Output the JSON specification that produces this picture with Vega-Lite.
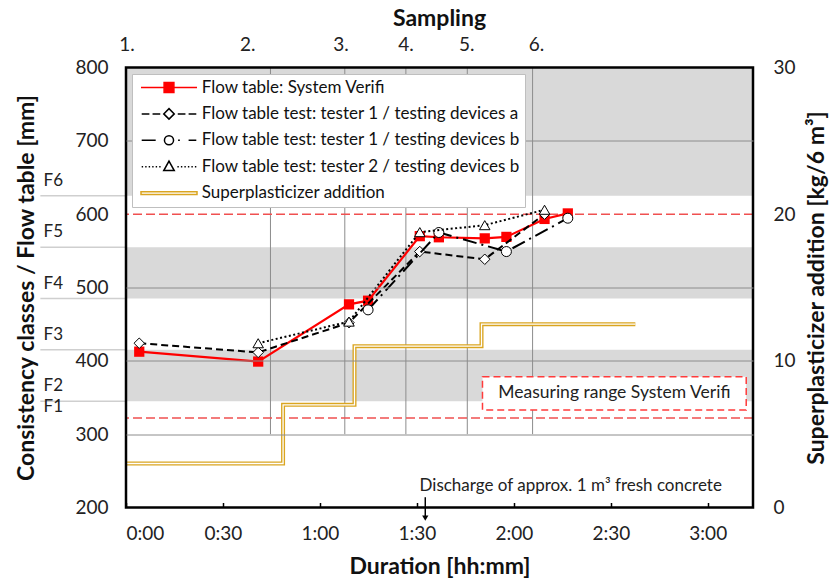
{
  "$schema": "https://vega.github.io/schema/vega-lite/v6.json",
  "width": 627,
  "height": 440,
  "autosize": {"type": "none"},
  "padding": {"left": 126, "top": 67.5, "right": 76, "bottom": 75.5},
  "background": "white",
  "config": {"font": "Lato", "view": {"stroke": null}},
  "title": {"text": "Sampling", "fontSize": 23, "fontWeight": "bold", "color": "#111", "anchor": "middle", "frame": "group", "offset": 5},
  "datasets": {
    "flow": [
      {"series": "Flow table: System Verifi", "t": 4.1, "mm": 412.5},
      {"series": "Flow table: System Verifi", "t": 40.9, "mm": 399},
      {"series": "Flow table: System Verifi", "t": 69.0, "mm": 477},
      {"series": "Flow table: System Verifi", "t": 74.9, "mm": 482},
      {"series": "Flow table: System Verifi", "t": 90.9, "mm": 570},
      {"series": "Flow table: System Verifi", "t": 96.8, "mm": 568.5},
      {"series": "Flow table: System Verifi", "t": 111.0, "mm": 567},
      {"series": "Flow table: System Verifi", "t": 117.7, "mm": 569},
      {"series": "Flow table: System Verifi", "t": 129.5, "mm": 593.5},
      {"series": "Flow table: System Verifi", "t": 136.7, "mm": 601},
      {"series": "Flow table test: tester 1 / testing devices a", "t": 4.1, "mm": 424},
      {"series": "Flow table test: tester 1 / testing devices a", "t": 40.9, "mm": 411.5},
      {"series": "Flow table test: tester 1 / testing devices a", "t": 69.0, "mm": 452},
      {"series": "Flow table test: tester 1 / testing devices a", "t": 90.9, "mm": 549},
      {"series": "Flow table test: tester 1 / testing devices a", "t": 111.0, "mm": 538.5},
      {"series": "Flow table test: tester 1 / testing devices a", "t": 129.5, "mm": 600},
      {"series": "Flow table test: tester 1 / testing devices b", "t": 74.9, "mm": 469.5},
      {"series": "Flow table test: tester 1 / testing devices b", "t": 96.8, "mm": 575},
      {"series": "Flow table test: tester 1 / testing devices b", "t": 117.7, "mm": 549},
      {"series": "Flow table test: tester 1 / testing devices b", "t": 136.7, "mm": 594.5},
      {"series": "Flow table test: tester 2 / testing devices b", "t": 40.9, "mm": 424},
      {"series": "Flow table test: tester 2 / testing devices b", "t": 69.0, "mm": 453.5},
      {"series": "Flow table test: tester 2 / testing devices b", "t": 90.9, "mm": 575.5},
      {"series": "Flow table test: tester 2 / testing devices b", "t": 111.0, "mm": 585},
      {"series": "Flow table test: tester 2 / testing devices b", "t": 129.5, "mm": 606}
    ],
    "plast": [
      {"t": 0, "kg": 3},
      {"t": 48.6, "kg": 7},
      {"t": 70.7, "kg": 11},
      {"t": 110.0, "kg": 12.5},
      {"t": 157.6, "kg": 12.5}
    ],
    "classes": [
      {"class": "F1", "lo": 200, "hi": 345},
      {"class": "F2", "lo": 345, "hi": 415},
      {"class": "F3", "lo": 415, "hi": 485},
      {"class": "F4", "lo": 485, "hi": 555},
      {"class": "F5", "lo": 555, "hi": 625},
      {"class": "F6", "lo": 625, "hi": 800}
    ],
    "samples": [
      {"sample": "1.", "t": 0, "t_label": 0.3},
      {"sample": "2.", "t": 44.7, "t_label": 37.7},
      {"sample": "3.", "t": 67.7, "t_label": 66.5},
      {"sample": "4.", "t": 86.6, "t_label": 86.6},
      {"sample": "5.", "t": 105.6, "t_label": 105.4},
      {"sample": "6.", "t": 125.8, "t_label": 127.0}
    ],
    "limits": [
      {"limit": "upper", "mm": 600},
      {"limit": "lower", "mm": 322}
    ],
    "series": [
      {"series": "Flow table: System Verifi"},
      {"series": "Flow table test: tester 1 / testing devices a"},
      {"series": "Flow table test: tester 1 / testing devices b"},
      {"series": "Flow table test: tester 2 / testing devices b"},
      {"series": "Superplasticizer addition"}
    ]
  },
  "layer": [
    {
      "layer": [
        {
          "data": {"name": "classes"},
          "transform": [{"filter": {"field": "class", "oneOf": ["F2", "F4", "F6"]}}],
          "mark": {"type": "rect", "fill": "#D9D9D9"},
          "encoding": {
            "y": {"field": "lo", "type": "quantitative", "scale": {"domain": [200, 800], "nice": false, "zero": false},
              "axis": {"title": "Consistency classes / Flow table [mm]", "orient": "left", "values": [200, 300, 400, 500, 600, 700, 800],
                "grid": true, "gridColor": {"condition": {"test": "datum.value === 200 || datum.value === 600 || datum.value === 800", "value": "transparent"}, "value": "#8C8C8C"},
                "gridWidth": 1, "ticks": false, "domain": false, "labelFontSize": 19, "labelColor": "#222", "labelPadding": 18,
                "titleFontSize": 23, "titleFontWeight": "bold", "titleColor": "#111", "titlePadding": 36, "zindex": 1}},
            "y2": {"field": "hi"}
          }
        },
        {
          "data": {"name": "classes"},
          "transform": [{"filter": "datum.lo > 200"}],
          "mark": {"type": "rule", "color": "#CFCFCF", "strokeWidth": 1.5},
          "encoding": {
            "y": {"field": "lo", "type": "quantitative", "scale": {"domain": [200, 800], "nice": false, "zero": false}},
            "x": {"datum": -26.5, "type": "quantitative", "scale": {"domain": [0, 194], "nice": false, "zero": false}},
            "x2": {"datum": 0}
          }
        },
        {
          "data": {"name": "classes"},
          "transform": [{"filter": "datum.class !== 'F1'"}],
          "mark": {"type": "text", "fontSize": 17, "color": "#222", "align": "left", "baseline": "middle", "dy": -15},
          "encoding": {
            "y": {"field": "lo", "type": "quantitative"},
            "x": {"datum": -25.5, "type": "quantitative"},
            "text": {"field": "class"}
          }
        },
        {
          "data": {"name": "classes"},
          "transform": [{"filter": "datum.class === 'F1'"}],
          "mark": {"type": "text", "fontSize": 17, "color": "#222", "align": "left", "baseline": "middle", "dy": 6},
          "encoding": {
            "y": {"field": "hi", "type": "quantitative"},
            "x": {"datum": -25.5, "type": "quantitative"},
            "text": {"field": "class"}
          }
        },
        {
          "data": {"name": "samples"},
          "transform": [{"filter": "datum.t > 0"}],
          "mark": {"type": "rule", "color": "#8C8C8C", "strokeWidth": 1},
          "encoding": {
            "x": {"field": "t", "type": "quantitative", "scale": {"domain": [0, 194], "nice": false, "zero": false},
              "axis": {"title": "Duration [hh:mm]", "orient": "bottom", "values": [0, 30, 60, 90, 120, 150, 180],
                "labelExpr": "floor(datum.value / 60) + ':' + (datum.value % 60 < 10 ? '0' : '') + (datum.value % 60)",
                "grid": false, "domain": false, "ticks": true, "tickSize": -5, "tickColor": "black", "tickWidth": 1.5,
                "labelPadding": 22, "labelFontSize": 19, "labelColor": "#222",
                "titleFontSize": 23, "titleFontWeight": "bold", "titleColor": "#111", "titlePadding": 12, "zindex": 1}},
            "y": {"datum": 300, "type": "quantitative"},
            "y2": {"datum": 800}
          }
        },
        {
          "data": {"name": "samples"},
          "mark": {"type": "text", "fontSize": 19, "color": "#222", "baseline": "middle", "dy": -22.5},
          "encoding": {
            "x": {"field": "t_label", "type": "quantitative"},
            "y": {"datum": 800, "type": "quantitative"},
            "text": {"field": "sample"}
          }
        },
        {
          "data": {"name": "limits"},
          "mark": {"type": "rule", "color": "#F05050", "strokeWidth": 1.5, "strokeDash": [9, 4]},
          "encoding": {"y": {"field": "mm", "type": "quantitative"}}
        },
        {
          "data": {"name": "flow"},
          "transform": [{"filter": "datum.series === 'Flow table: System Verifi'"}],
          "mark": {"type": "line", "color": "#FF0000", "strokeWidth": 2.2},
          "encoding": {"x": {"field": "t", "type": "quantitative"}, "y": {"field": "mm", "type": "quantitative"}}
        },
        {
          "data": {"name": "flow"},
          "transform": [{"filter": "datum.series === 'Flow table: System Verifi'"}],
          "mark": {"type": "point", "shape": "square", "filled": true, "color": "#FF0000", "size": 105, "opacity": 1},
          "encoding": {"x": {"field": "t", "type": "quantitative"}, "y": {"field": "mm", "type": "quantitative"}}
        },
        {
          "data": {"name": "flow"},
          "transform": [{"filter": "datum.series === 'Flow table test: tester 1 / testing devices a'"}],
          "mark": {"type": "line", "color": "#000000", "strokeWidth": 2, "strokeDash": [7, 4]},
          "encoding": {"x": {"field": "t", "type": "quantitative"}, "y": {"field": "mm", "type": "quantitative"}}
        },
        {
          "data": {"name": "flow"},
          "transform": [{"filter": "datum.series === 'Flow table test: tester 1 / testing devices a'"}],
          "mark": {"type": "point", "shape": "diamond", "filled": true, "fill": "#FFFFFF", "stroke": "#000000", "strokeWidth": 1, "size": 110, "opacity": 1},
          "encoding": {"x": {"field": "t", "type": "quantitative"}, "y": {"field": "mm", "type": "quantitative"}}
        },
        {
          "data": {"name": "flow"},
          "transform": [{"filter": "datum.series === 'Flow table test: tester 1 / testing devices b'"}],
          "mark": {"type": "line", "color": "#000000", "strokeWidth": 2, "strokeDash": [14, 5, 2, 5]},
          "encoding": {"x": {"field": "t", "type": "quantitative"}, "y": {"field": "mm", "type": "quantitative"}}
        },
        {
          "data": {"name": "flow"},
          "transform": [{"filter": "datum.series === 'Flow table test: tester 1 / testing devices b'"}],
          "mark": {"type": "point", "shape": "circle", "filled": true, "fill": "#FFFFFF", "stroke": "#000000", "strokeWidth": 1, "size": 100, "opacity": 1},
          "encoding": {"x": {"field": "t", "type": "quantitative"}, "y": {"field": "mm", "type": "quantitative"}}
        },
        {
          "data": {"name": "flow"},
          "transform": [{"filter": "datum.series === 'Flow table test: tester 2 / testing devices b'"}],
          "mark": {"type": "line", "color": "#000000", "strokeWidth": 2, "strokeDash": [2, 2.5]},
          "encoding": {"x": {"field": "t", "type": "quantitative"}, "y": {"field": "mm", "type": "quantitative"}}
        },
        {
          "data": {"name": "flow"},
          "transform": [{"filter": "datum.series === 'Flow table test: tester 2 / testing devices b'"}],
          "mark": {"type": "point", "shape": "triangle-up", "filled": true, "fill": "#FFFFFF", "stroke": "#000000", "strokeWidth": 1, "size": 110, "opacity": 1},
          "encoding": {"x": {"field": "t", "type": "quantitative"}, "y": {"field": "mm", "type": "quantitative"}}
        },
        {
          "data": {"values": [{"label": "Measuring range System Verifi"}]},
          "mark": {"type": "rect", "fill": "#FFFFFF", "stroke": "#FF3B3B", "strokeWidth": 1.5, "strokeDash": [7, 4]},
          "encoding": {
            "x": {"datum": 110.3, "type": "quantitative"}, "x2": {"datum": 191.9},
            "y": {"datum": 333, "type": "quantitative"}, "y2": {"datum": 378.4}
          }
        },
        {
          "data": {"values": [{"label": "Measuring range System Verifi"}]},
          "mark": {"type": "text", "fontSize": 17.5, "color": "#222", "baseline": "middle", "align": "center"},
          "encoding": {
            "x": {"datum": 151.1, "type": "quantitative"},
            "y": {"datum": 355.7, "type": "quantitative"},
            "text": {"field": "label"}
          }
        },
        {
          "data": {"values": [{"label": "Discharge of approx. 1 m³ fresh concrete"}]},
          "mark": {"type": "text", "fontSize": 17, "color": "#222", "baseline": "middle", "align": "center"},
          "encoding": {
            "x": {"datum": 137.6, "type": "quantitative"},
            "y": {"datum": 229.5, "type": "quantitative"},
            "text": {"field": "label"}
          }
        },
        {
          "data": {"values": [{"label": "arrow"}]},
          "mark": {"type": "rule", "color": "#000000", "strokeWidth": 1.5},
          "encoding": {
            "x": {"datum": 92.6, "type": "quantitative"},
            "y": {"datum": 214, "type": "quantitative"}, "y2": {"datum": 188}
          }
        },
        {
          "data": {"values": [{"label": "arrow"}]},
          "mark": {"type": "point", "shape": "triangle-down", "filled": true, "color": "#000000", "size": 40, "opacity": 1},
          "encoding": {
            "x": {"datum": 92.6, "type": "quantitative"},
            "y": {"datum": 185.5, "type": "quantitative"}
          }
        },
        {
          "data": {"name": "series"},
          "transform": [{"filter": "false"}],
          "mark": {"type": "point", "filled": true, "strokeWidth": 1.5, "size": 196, "opacity": 1},
          "encoding": {
            "shape": {"field": "series", "type": "nominal",
              "scale": {"domain": ["Flow table: System Verifi", "Flow table test: tester 1 / testing devices a", "Flow table test: tester 1 / testing devices b", "Flow table test: tester 2 / testing devices b", "Superplasticizer addition"],
                "range": [
                  "M-4,0H4M-0.7,-0.7H0.7V0.7H-0.7Z",
                  "M-3.9,0H-2.8M-2.35,0H-1.25M1.25,0H2.35M2.8,0H3.9M0,-0.75L0.75,0L0,0.75L-0.75,0Z",
                  "M-3.9,0H-1.9M1.3,0H1.55M2.8,0H3.9M-0.65,0A0.65,0.65 0 1,0 0.65,0A0.65,0.65 0 1,0 -0.65,0Z",
                  "M-3.9,0H-3.7M-3.4,0H-3.2M-2.9,0H-2.7M-2.4,0H-2.2M-1.9,0H-1.7M-1.4,0H-1.2M1.2,0H1.4M1.7,0H1.9M2.2,0H2.4M2.7,0H2.9M3.2,0H3.4M3.7,0H3.9M0,-0.8L0.75,0.55L-0.75,0.55Z",
                  "M-4,-0.2H4V0.2H-4Z"
                ]},
              "legend": {"title": null, "orient": "none", "legendX": 6, "legendY": 6.5, "fillColor": "#FFFFFF", "strokeColor": "#BFBFBF", "padding": 5,
                "symbolSize": 196, "symbolStrokeWidth": 1.5, "symbolOffset": 23.5, "symbolOpacity": 1, "labelOffset": 24.2, "labelFontSize": 17, "labelColor": "#111",
                "labelFont": "Lato", "rowPadding": 8.4, "labelLimit": 500, "symbolLimit": 0, "zindex": 2}},
            "fill": {"field": "series", "type": "nominal",
              "scale": {"domain": ["Flow table: System Verifi", "Flow table test: tester 1 / testing devices a", "Flow table test: tester 1 / testing devices b", "Flow table test: tester 2 / testing devices b", "Superplasticizer addition"],
                "range": ["#FF0000", "#FFFFFF", "#FFFFFF", "#FFFFFF", "#FFFFFF"]},
              "legend": {"title": null, "orient": "none", "legendX": 6, "legendY": 6.5, "fillColor": "#FFFFFF", "strokeColor": "#BFBFBF", "padding": 5,
                "symbolSize": 196, "symbolStrokeWidth": 1.5, "symbolOffset": 23.5, "symbolOpacity": 1, "labelOffset": 24.2, "labelFontSize": 17, "labelColor": "#111",
                "labelFont": "Lato", "rowPadding": 8.4, "labelLimit": 500, "symbolLimit": 0, "zindex": 2}},
            "stroke": {"field": "series", "type": "nominal",
              "scale": {"domain": ["Flow table: System Verifi", "Flow table test: tester 1 / testing devices a", "Flow table test: tester 1 / testing devices b", "Flow table test: tester 2 / testing devices b", "Superplasticizer addition"],
                "range": ["#FF0000", "#000000", "#000000", "#000000", "#DAA520"]},
              "legend": {"title": null, "orient": "none", "legendX": 6, "legendY": 6.5, "fillColor": "#FFFFFF", "strokeColor": "#BFBFBF", "padding": 5,
                "symbolSize": 196, "symbolStrokeWidth": 1.5, "symbolOffset": 23.5, "symbolOpacity": 1, "labelOffset": 24.2, "labelFontSize": 17, "labelColor": "#111",
                "labelFont": "Lato", "rowPadding": 8.4, "labelLimit": 500, "symbolLimit": 0, "zindex": 2}}
          }
        }
      ]
    },
    {
      "layer": [
        {
          "data": {"name": "plast"},
          "mark": {"type": "line", "interpolate": "step-after", "color": "#DAA520", "strokeWidth": 4},
          "encoding": {
            "x": {"field": "t", "type": "quantitative", "scale": {"domain": [0, 194], "nice": false, "zero": false}},
            "y": {"field": "kg", "type": "quantitative", "scale": {"domain": [0, 30], "nice": false},
              "axis": {"title": "Superplasticizer addition [kg/6 m³]", "orient": "right", "values": [0, 10, 20, 30], "grid": false, "ticks": false, "domain": false,
                "labelFontSize": 19, "labelColor": "#222", "labelPadding": 20, "titleFontSize": 23, "titleFontWeight": "bold", "titleColor": "#111",
                "titleAngle": -90, "titlePadding": 33}}
          }
        },
        {
          "data": {"name": "plast"},
          "mark": {"type": "line", "interpolate": "step-after", "color": "#FFFFFF", "strokeWidth": 1.3},
          "encoding": {
            "x": {"field": "t", "type": "quantitative"},
            "y": {"field": "kg", "type": "quantitative"}
          }
        },
        {
          "data": {"values": [{"label": "frame"}]},
          "mark": {"type": "rect", "filled": false, "stroke": "#000000", "strokeWidth": 2.5},
          "encoding": {
            "x": {"datum": 0, "type": "quantitative"}, "x2": {"datum": 194},
            "y": {"datum": 0, "type": "quantitative"}, "y2": {"datum": 30}
          }
        }
      ]
    }
  ],
  "resolve": {"scale": {"y": "independent"}}
}
